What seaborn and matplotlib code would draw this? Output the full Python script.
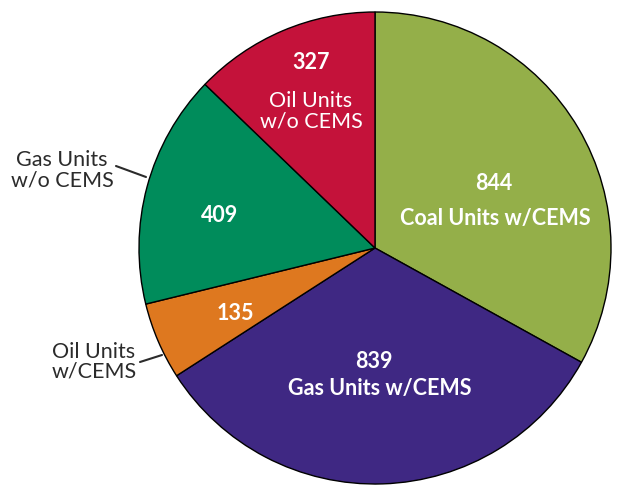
import matplotlib
matplotlib.use('Agg')
import matplotlib.pyplot as plt
import seaborn as sns
import numpy as np

# DATA
categories = ['Coal Units w/CEMS', 'Gas Units w/CEMS', 'Oil Units w/CEMS',
              'Gas Units w/o CEMS', 'Oil Units w/o CEMS']
counts = [844, 839, 135, 409, 327]
colors = ['#94AF49', '#3F2883', '#DE781F', '#008C5B', '#C4123A']

sns.set_theme(style='white')
plt.rcParams['font.family'] = ['Lato', 'DejaVu Sans']

fig = plt.figure(figsize=(6.17, 4.86), dpi=100)
# pie centre ~ (375, 248) px, radius ~ 236 px
cx, cy, r = 375, 248, 236
ax = fig.add_axes([(cx - r) / 617, (486 - cy - r) / 486, 2 * r / 617, 2 * r / 486])

wedges, _ = ax.pie(counts, colors=colors, startangle=90, counterclock=False,
                   radius=1, wedgeprops=dict(edgecolor='black', linewidth=1.0))
ax.set_xlim(-1, 1)
ax.set_ylim(-1, 1)
ax.set_aspect('equal')
ax.axis('off')


def px(x, y):
    # pixel position in the figure -> data coords of the pie axes
    return (x - cx) / r, (cy - y) / r


W = 'white'
fs = 15.5
# inside labels
ax.text(*px(494, 183), '844', color=W, fontsize=fs, fontweight='bold', ha='center', va='center')
ax.text(*px(495, 218), 'Coal Units w/CEMS', color=W, fontsize=fs, fontweight='bold', ha='center', va='center')
ax.text(*px(374, 361), '839', color=W, fontsize=fs, fontweight='bold', ha='center', va='center')
ax.text(*px(380, 389), 'Gas Units w/CEMS', color=W, fontsize=fs, fontweight='bold', ha='center', va='center')
ax.text(*px(235, 313), '135', color=W, fontsize=fs, fontweight='bold', ha='center', va='center')
ax.text(*px(220, 215), '409', color=W, fontsize=fs, fontweight='bold', ha='center', va='center')
ax.text(*px(311, 62), '327', color=W, fontsize=fs, fontweight='bold', ha='center', va='center')
ax.text(*px(311, 111), 'Oil Units\nw/o CEMS', color=W, fontsize=fs, ha='center', va='center',
        linespacing=1.05)

# outside labels with leader lines
dark = '#2b2b2b'
ax.text(*px(62, 170), 'Gas Units\nw/o CEMS', color=dark, fontsize=fs, ha='center', va='center',
        linespacing=1.0)
ax.plot(*zip(px(116, 166), px(146, 177)), color=dark, lw=1.5, clip_on=False)
ax.text(*px(94, 362), 'Oil Units\nw/CEMS', color=dark, fontsize=fs, ha='center', va='center',
        linespacing=1.0)
ax.plot(*zip(px(140, 362), px(162, 355)), color=dark, lw=1.5, clip_on=False)

fig.savefig('out.png', dpi=100)
